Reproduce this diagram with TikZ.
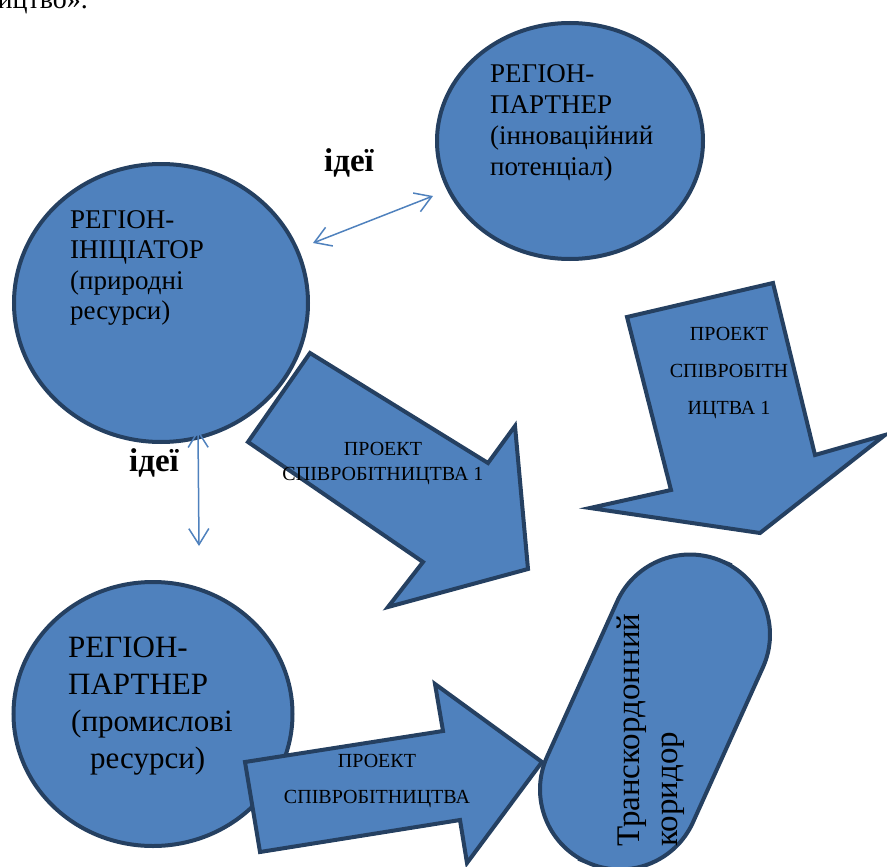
\documentclass[tikz,border=0pt]{standalone}
\usepackage{fontspec}
\setmainfont{Liberation Serif}[Ligatures=TeX]
\usetikzlibrary{arrows.meta,shapes.geometric}
\definecolor{shapeblue}{RGB}{79,129,189}
\definecolor{edgeblue}{RGB}{37,64,97}

\begin{document}
\begin{tikzpicture}[x=1pt, y=-1pt,
    region/.style={ellipse, draw=edgeblue, fill=shapeblue, line width=4pt, inner sep=0pt},
    blockarrow/.style={draw=edgeblue, fill=shapeblue, line width=4pt, line join=miter},
    regtext/.style={anchor=north west, align=left, inner sep=0pt},
    projtext/.style={anchor=north, align=center, inner sep=0pt},
    ideas/.style={anchor=base, inner sep=0pt, font=\fontsize{33}{38}\selectfont\bfseries},
    ideaarrow/.style={draw=shapeblue, line width=1.5pt,
        {Straight Barb[length=16pt,width=20pt]}-{Straight Barb[length=16pt,width=20pt]}}]
    \useasboundingbox (0,0) rectangle (887,867);

    % Line of the page above the figure
    \node[anchor=base east, inner sep=0pt, font=\fontsize{28}{32}\selectfont\rmfamily] (prevline) at (88,9) {ництво».};

    % Regions
    \node[region, minimum width=294pt, minimum height=278pt] (initiator) at (161,303) {};
    \node[regtext, font=\fontsize{27}{30.5}\selectfont\rmfamily] (initiatortext) at (70,210)
        {РЕГІОН-\\ІНІЦІАТОР\\(природні\\ресурси)};

    \node[region, minimum width=266pt, minimum height=236pt] (innovation) at (570,141) {};
    \node[regtext, font=\fontsize{27}{31}\selectfont\rmfamily] (innovationtext) at (490,64)
        {РЕГІОН-\\ПАРТНЕР\\(інноваційний\\потенціал)};

    \node[region, minimum width=279pt, minimum height=264pt] (industry) at (153,714) {};
    \node[regtext, font=\fontsize{31}{37}\selectfont\rmfamily] (industrytext) at (68,637)
        {РЕГІОН-\\ПАРТНЕР\\\hspace*{3pt}(промислові\\\hspace*{22pt}ресурси)};

    % Ideas exchange
    \coordinate (ideasA1) at (313,243);
    \coordinate (ideasA2) at (433,196);
    \draw[ideaarrow] (ideasA1) -- (ideasA2);
    \node[ideas] (ideasA) at (349,171) {ідеї};

    \coordinate (ideasB1) at (198,430);
    \coordinate (ideasB2) at (199,546);
    \draw[ideaarrow] (ideasB1) -- (ideasB2);
    \node[ideas] (ideasB) at (154,471) {ідеї};

    % Cooperation projects
    \draw[blockarrow] (310,353) -- (488,463) -- (515,426) -- (528,569)
        -- (388,607) -- (423,562) -- (248,442) -- cycle;
    \node[projtext, font=\fontsize{20}{25}\selectfont\rmfamily] (project1) at (383,442)
        {ПРОЕКТ\\СПІВРОБІТНИЦТВА 1};

    \draw[blockarrow] (627,317) -- (773,283) -- (815,455) -- (885,435)
        -- (760,533) -- (590,508) -- (671,490) -- cycle;
    \node[projtext, font=\fontsize{20}{37}\selectfont\rmfamily] (project2) at (729,327)
        {ПРОЕКТ\\СПІВРОБІТН\\ИЦТВА 1};

    \draw[blockarrow] (245,762) -- (443,731) -- (435,684) -- (542,762)
        -- (467,863) -- (460,820) -- (260,852) -- cycle;
    \node[projtext, font=\fontsize{20}{36}\selectfont\rmfamily] (project3) at (377,754)
        {ПРОЕКТ\\СПІВРОБІТНИЦТВА};

    % Transborder corridor
    \node[draw=edgeblue, fill=shapeblue, line width=4pt, rectangle, rounded corners=80pt,
        minimum width=330pt, minimum height=160pt, inner sep=0pt, rotate=65.7] (corridor) at (655,712) {};
    \node[regtext, rotate=90, font=\fontsize{33}{38}\selectfont\rmfamily] (corridortext) at (617,847)
        {Транскордонний\\коридор};
\end{tikzpicture}
\end{document}
